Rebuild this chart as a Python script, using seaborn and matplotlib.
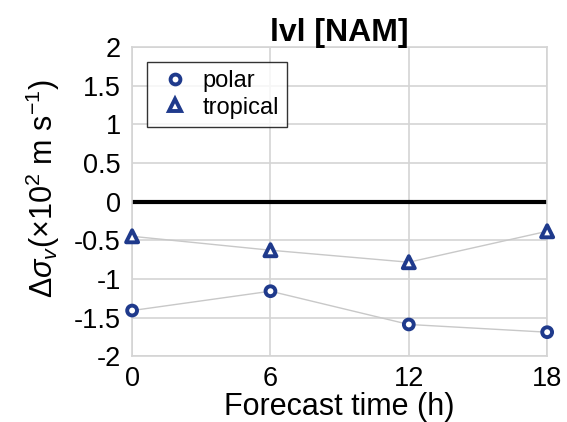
import matplotlib
matplotlib.use("Agg")
import matplotlib.pyplot as plt
import seaborn as sns
import pandas as pd
import numpy as np

hours = [0, 6, 12, 18]
polar = [-1.41, -1.16, -1.59, -1.69]
tropical = [-0.45, -0.63, -0.785, -0.385]
xticks = [0, 6, 12, 18]
yticks = [-2, -1.5, -1, -0.5, 0, 0.5, 1, 1.5, 2]
ytick_labels = ["-2", "-1.5", "-1", "-0.5", "0", "0.5", "1", "1.5", "2"]

df = pd.DataFrame({
    "hour": hours * 2,
    "value": polar + tropical,
    "regime": ["polar"] * 4 + ["tropical"] * 4,
})

sns.set_style("white")
plt.rcParams['font.family'] = ['Liberation Sans', 'DejaVu Sans']
plt.rcParams['mathtext.fontset'] = 'custom'
plt.rcParams['mathtext.rm'] = 'Liberation Sans'
plt.rcParams['mathtext.it'] = 'Liberation Sans:italic'
for k in ['text.color', 'axes.labelcolor', 'xtick.color', 'ytick.color']:
    plt.rcParams[k] = 'black'

fig = plt.figure(figsize=(5.67, 4.22), dpi=100)
ax = fig.add_axes([0.233, 0.156, 0.732, 0.733])

navy = "#1f3a8c"
msizes = {"polar": 50, "tropical": 75}
ax.axhline(0, color="black", lw=3.0, zorder=2)
sns.lineplot(data=df, x="hour", y="value", units="regime", estimator=None,
             color="#c8c8c8", lw=1.0, ax=ax, legend=False, zorder=3)
sns.scatterplot(data=df, x="hour", y="value", style="regime", size="regime",
                markers={"polar": "o", "tropical": "^"},
                sizes=msizes,
                facecolor="white", edgecolor=navy, linewidth=2.8,
                ax=ax, zorder=4, clip_on=False)

ax.set_xlim(0, 18)
ax.set_ylim(-2, 2)
ax.set_xticks(xticks)
ax.set_xticklabels([str(t) for t in xticks], fontsize=19.5)
ax.set_yticks(yticks)
ax.set_yticklabels(ytick_labels, fontsize=19.5)
ax.tick_params(axis="y", length=0, pad=8)
ax.tick_params(axis="x", length=0, pad=7)
ax.grid(True, color="#d4d4d4", lw=1.2)
for sp in ax.spines.values():
    sp.set_color("#d4d4d4")
    sp.set_linewidth(1.2)

ax.set_xlabel("Forecast time (h)", fontsize=22, labelpad=0)
ax.set_ylabel(r"$\Delta\sigma_v$($\times$10$^2$ m s$^{-1}$)", fontsize=22)
ax.yaxis.set_label_coords(-0.17, 0.54)
ax.set_title("lvl [NAM]", fontsize=23, fontweight="bold", pad=4)

leg = ax.legend(loc="upper left", bbox_to_anchor=(0.036, 0.952), fontsize=17,
                frameon=True, fancybox=False, edgecolor="black",
                handletextpad=0.3, borderpad=0.35, labelspacing=0.2,
                handlelength=1.7, borderaxespad=0.0)
leg.get_frame().set_linewidth(1.0)
for h, t in zip(leg.legend_handles, leg.get_texts()):
    t.set_color("black")
    try:
        h.set_markeredgecolor(navy)
        h.set_markerfacecolor("white")
        h.set_markeredgewidth(2.8)
        h.set_markersize(np.sqrt(msizes.get(t.get_text(), 50)))
    except AttributeError:
        h.set_edgecolor(navy)
        h.set_facecolor("white")
        h.set_linewidth(2.8)

fig.savefig("out.png", dpi=100)
